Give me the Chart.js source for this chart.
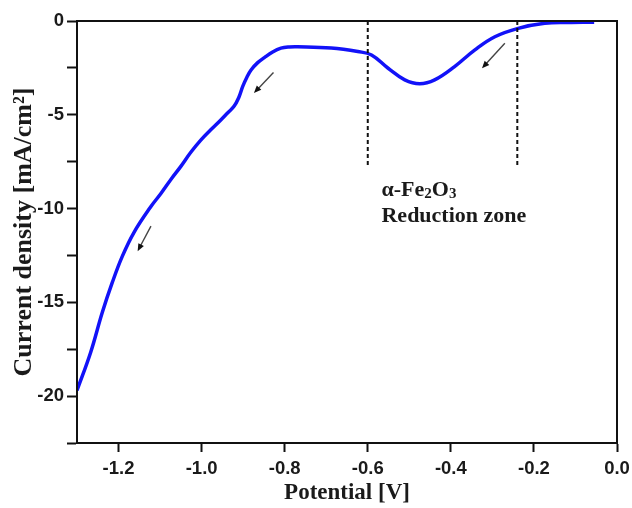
<!DOCTYPE html>
<html>
<head>
<meta charset="utf-8">
<script src="https://cdn.jsdelivr.net/npm/chart.js@4/dist/chart.umd.min.js"></script>
<style>
  html, body { margin: 0; padding: 0; background: #fff; }
  #wrap { width: 632px; height: 508px; position: relative; }
</style>
</head>
<body>
<div id="wrap"><canvas id="lsvChart"></canvas></div>
<script>
// Linear sweep voltammogram, cathodic scan
const potential = [-1.300, -1.267, -1.239, -1.215, -1.191, -1.163, -1.122, -1.098, -1.074, -1.050,
  -1.026, -1.002, -0.978, -0.955, -0.937, -0.922, -0.910, -0.901, -0.891, -0.881,
  -0.865, -0.849, -0.829, -0.809, -0.789, -0.769, -0.688, -0.624, -0.591, -0.551,
  -0.511, -0.475, -0.439, -0.391, -0.342, -0.294, -0.238, -0.174, -0.110, -0.055];
const current = [-19.7, -17.66, -15.53, -13.94, -12.55, -11.28, -9.89, -9.20, -8.45, -7.75,
  -7.00, -6.35, -5.80, -5.30, -4.89, -4.55, -4.05, -3.49, -3.00, -2.61,
  -2.22, -1.95, -1.65, -1.45, -1.38, -1.37, -1.44, -1.63, -1.81, -2.52,
  -3.14, -3.35, -3.14, -2.43, -1.54, -0.84, -0.39, -0.12, -0.08, -0.06];

const xTicks = [-1.2, -1.0, -0.8, -0.6, -0.4, -0.2, 0.0];
const yTicks = [0, -2.5, -5, -7.5, -10, -12.5, -15, -17.5, -20, -22.5];

// reduction zone bounds (V) and how far down the dashed markers go
const zoneEdges = [-0.6, -0.24];
const zoneDepth = -7.7;

// scan direction arrows: [tailX, tailY, headX, headY]
const scanArrows = [
  [-1.122, -10.94, -1.154, -12.27],
  [-0.827, -2.75, -0.874, -3.84],
  [-0.270, -1.19, -0.325, -2.52],
];

const serif = '"Liberation Serif", "Times New Roman", serif';
const sans = '"Liberation Sans", Arial, sans-serif';

const annotations = {
  id: "annotations",
  afterDatasetsDraw(chart) {
    const { ctx, chartArea, scales } = chart;
    const x = scales.x, y = scales.y;
    ctx.save();

    // dashed zone markers
    ctx.strokeStyle = "#111";
    ctx.lineWidth = 2;
    ctx.setLineDash([4, 3]);
    zoneEdges.forEach((v) => {
      const px = x.getPixelForValue(v);
      ctx.beginPath();
      ctx.moveTo(px, y.getPixelForValue(0));
      ctx.lineTo(px, y.getPixelForValue(zoneDepth));
      ctx.stroke();
    });
    ctx.setLineDash([]);

    // arrows
    scanArrows.forEach(([x0, y0, x1, y1]) => {
      const ax = x.getPixelForValue(x0), ay = y.getPixelForValue(y0);
      const bx = x.getPixelForValue(x1), by = y.getPixelForValue(y1);
      const ang = Math.atan2(by - ay, bx - ax);
      ctx.strokeStyle = "#444";
      ctx.lineWidth = 1.4;
      ctx.beginPath();
      ctx.moveTo(ax, ay);
      ctx.lineTo(bx - 5 * Math.cos(ang), by - 5 * Math.sin(ang));
      ctx.stroke();
      ctx.fillStyle = "#111";
      ctx.beginPath();
      ctx.moveTo(bx, by);
      ctx.lineTo(bx - 8 * Math.cos(ang - 0.4), by - 8 * Math.sin(ang - 0.4));
      ctx.lineTo(bx - 8 * Math.cos(ang + 0.4), by - 8 * Math.sin(ang + 0.4));
      ctx.closePath();
      ctx.fill();
    });

    // zone label
    const lx = x.getPixelForValue(-0.567);
    const l1 = y.getPixelForValue(-9.35);
    const l2 = y.getPixelForValue(-10.72);
    ctx.fillStyle = "#1a1a1a";
    ctx.textBaseline = "alphabetic";
    ctx.textAlign = "left";
    const big = "bold 22px " + serif, small = "bold 15px " + serif;
    let cx = lx;
    [["α-Fe", big, 0], ["2", small, 2], ["O", big, 0], ["3", small, 2]].forEach(([t, f, dy]) => {
      ctx.font = f;
      ctx.fillText(t, cx, l1 + dy);
      cx += ctx.measureText(t).width;
    });
    ctx.font = big;
    ctx.fillText("Reduction zone", lx, l2);

    // frame
    ctx.strokeStyle = "#111";
    ctx.lineWidth = 2;
    ctx.strokeRect(chartArea.left, chartArea.top, chartArea.right - chartArea.left, chartArea.bottom - chartArea.top);
    ctx.restore();
  },
};

new Chart(document.getElementById("lsvChart"), {
  type: "scatter",
  data: {
    datasets: [
      {
        data: potential.map((v, i) => ({ x: v, y: current[i] })),
        showLine: true,
        borderColor: "#1212f8",
        borderWidth: 3.5,
        pointRadius: 0,
        tension: 0.4,
        fill: false,
      },
    ],
  },
  options: {
    responsive: true,
    maintainAspectRatio: false,
    animation: false,
    layout: { padding: { top: 21, right: 15, left: 0, bottom: 0 } },
    plugins: { legend: { display: false }, tooltip: { enabled: false } },
    scales: {
      x: {
        type: "linear",
        min: -1.3,
        max: 0,
        afterBuildTicks: (s) => { s.ticks = xTicks.map((v) => ({ value: v })); },
        afterFit: (s) => { s.height = 65; s.paddingLeft = 0; s.paddingRight = 0; },
        grid: { drawOnChartArea: false, tickLength: 9, tickWidth: 2, tickColor: "#111" },
        border: { color: "#111", width: 2 },
        ticks: {
          color: "#1a1a1a",
          font: { family: sans, size: 18.5, weight: "bold" },
          padding: 6,
          maxRotation: 0,
          callback: (v) => v.toFixed(1),
        },
        title: {
          display: true,
          text: "Potential [V]",
          color: "#1a1a1a",
          font: { family: serif, size: 23, weight: "bold" },
          padding: { top: 0, bottom: 1 },
        },
      },
      y: {
        type: "linear",
        min: -22.5,
        max: 0,
        afterBuildTicks: (s) => { s.ticks = yTicks.map((v) => ({ value: v })); },
        afterFit: (s) => { s.width = 77; s.paddingTop = 0; s.paddingBottom = 0; },
        grid: { drawOnChartArea: false, tickLength: 10, tickWidth: 2, tickColor: "#111" },
        border: { color: "#111", width: 2 },
        ticks: {
          color: "#1a1a1a",
          font: { family: sans, size: 18.5, weight: "bold" },
          padding: 3,
          callback: (v) => (v % 5 === 0 ? String(v) : ""),
        },
        title: {
          display: true,
          text: "Current density [mA/cm²]",
          color: "#1a1a1a",
          font: { family: serif, size: 26, weight: "bold" },
          padding: { top: 9, bottom: 0 },
        },
      },
    },
  },
  plugins: [annotations],
});
</script>
</body>
</html>
